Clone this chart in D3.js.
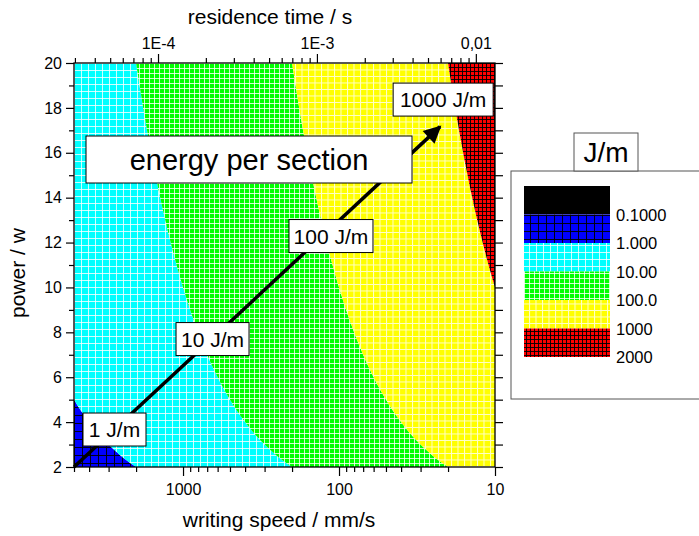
<!DOCTYPE html>
<meta charset="utf-8">
<head>
    <title>Energy per section</title>
    <script type="text/javascript" src="https://cdn.jsdelivr.net/npm/d3@7"></script>
    <style>
        body { margin: 0; background: white; }
        svg text { font-family: "Liberation Sans", Arial, Helvetica, sans-serif; fill: black; }
    </style>
</head>
<body>
<div id="chart"></div>
<script>
    // contour levels (J/m) and the colour of each band between two levels
    var levels = [0.1, 1, 10, 100, 1000, 2000];
    var bandColors = ["#0000ff", "#00ffff", "#00ff00", "#ffff00", "#ff0000"];
    var legendLabels = ["0.1000", "1.000", "10.00", "100.0", "1000", "2000"];

    // axis domains
    var speedDomain = [5000, 10];        // mm/s
    var powerDomain = [2, 20];           // W
    var timeDomain = [2.96e-5, 0.0132];  // s

    var speedTicks = [1000, 100, 10];
    var speedMinor = [5000, 4000, 3000, 2000, 900, 800, 700, 600, 500, 400, 300, 200, 90, 80, 70, 60, 50, 40, 30, 20];
    var powerTicks = [2, 4, 6, 8, 10, 12, 14, 16, 18, 20];
    var powerMinor = [3, 5, 7, 9, 11, 13, 15, 17, 19];
    var timeTicks = [1e-4, 1e-3, 1e-2];
    var timeTickLabels = ["1E-4", "1E-3", "0,01"];
    var timeMinor = [3e-5, 4e-5, 5e-5, 6e-5, 7e-5, 8e-5, 9e-5, 2e-4, 3e-4, 4e-4, 5e-4, 6e-4, 7e-4, 8e-4, 9e-4,
                     2e-3, 3e-3, 4e-3, 5e-3, 6e-3, 7e-3, 8e-3, 9e-3];

    // annotation labels: text, anchor speed, anchor power
    var noteText = ["1 J/m", "10 J/m", "100 J/m", "1000 J/m"];
    var noteSpeed = [2750, 647, 112.6, 21.5];
    var notePower = [3.67, 7.70, 12.29, 18.37];
    var arrowStart = [5000, 2];
    var arrowEnd = [21.2, 17.33];

    var w = 699, h = 536;
    var margin = {left: 74, right: 204, top: 63, bottom: 69};

    var svg = d3.select("#chart").append("svg")
        .attr("width", w).attr("height", h);

    var x = d3.scaleLog().domain(speedDomain).range([margin.left, w - margin.right]);
    var y = d3.scaleLinear().domain(powerDomain).range([h - margin.bottom, margin.top]);
    var xt = d3.scaleLog().domain(timeDomain).range([margin.left, w - margin.right]);

    // grid patterns on top of each band colour
    var patSize = [8, 7, 5, 6.5, 4];
    var patLine = ["#000", "#fff", "#fff", "#fff", "#000"];
    var defs = svg.append("defs");
    bandColors.forEach(function (c, i) {
        var s = patSize[i];
        var p = defs.append("pattern")
            .attr("id", "pat" + i)
            .attr("patternUnits", "userSpaceOnUse")
            .attr("x", margin.left).attr("y", margin.top)
            .attr("width", s).attr("height", s);
        p.append("rect").attr("width", s).attr("height", s).attr("fill", c);
        p.append("path")
            .attr("d", "M0,0.5H" + s + "M0.5,0V" + s)
            .attr("stroke", patLine[i])
            .attr("stroke-opacity", i == 0 || i == 4 ? 0.9 : 0.8)
            .attr("stroke-width", 1);
    });

    defs.append("clipPath").attr("id", "plotClip")
        .append("rect")
        .attr("x", margin.left).attr("y", margin.top)
        .attr("width", w - margin.left - margin.right)
        .attr("height", h - margin.top - margin.bottom);

    // speed at which the energy per section equals a level, for a given power
    function edge(p, level) {
        var v = 1000 * p / level;
        return Math.max(speedDomain[1], Math.min(speedDomain[0], v));
    }
    var powers = d3.range(0, 201).map(function (i) { return powerDomain[0] + i * (powerDomain[1] - powerDomain[0]) / 200; });

    var bands = svg.append("g").attr("clip-path", "url(#plotClip)");
    bandColors.forEach(function (c, i) {
        var area = d3.area()
            .y(function (p) { return y(p); })
            .x0(function (p) { return x(edge(p, levels[i])); })
            .x1(function (p) { return x(edge(p, levels[i + 1])); });
        bands.append("path")
            .datum(powers)
            .attr("d", area)
            .attr("fill", "url(#pat" + i + ")")
            .attr("stroke", "none");
    });

    // arrow
    defs.append("marker")
        .attr("id", "head")
        .attr("viewBox", "0 0 10 10")
        .attr("refX", 9).attr("refY", 5)
        .attr("markerWidth", 6.5).attr("markerHeight", 5)
        .attr("markerUnits", "strokeWidth")
        .attr("orient", "auto")
        .append("path").attr("d", "M0,0L10,5L0,10z").attr("fill", "black");

    svg.append("line")
        .attr("x1", x(arrowStart[0])).attr("y1", y(arrowStart[1]))
        .attr("x2", x(arrowEnd[0]) - 4).attr("y2", y(arrowEnd[1]) + 3.7)
        .attr("stroke", "black").attr("stroke-width", 3.5)
        .attr("marker-end", "url(#head)");

    // boxed labels
    var noteW = [63, 73, 84, 100];
    noteText.forEach(function (t, i) {
        var cx = x(noteSpeed[i]), cy = y(notePower[i]);
        svg.append("rect")
            .attr("x", cx - noteW[i] / 2).attr("y", cy - 16.5)
            .attr("width", noteW[i]).attr("height", 33)
            .attr("fill", "white").attr("stroke", "black").attr("stroke-width", 1);
        svg.append("text")
            .attr("x", cx).attr("y", cy + 7.5)
            .attr("text-anchor", "middle")
            .style("font-size", "21px")
            .text(t);
    });

    // title box
    var eX = x(377.6), eY = y(15.70);
    svg.append("rect")
        .attr("x", eX - 163).attr("y", eY - 23.5)
        .attr("width", 326).attr("height", 47)
        .attr("fill", "white").attr("stroke", "black").attr("stroke-width", 1);
    svg.append("text")
        .attr("x", eX).attr("y", eY + 10)
        .attr("text-anchor", "middle")
        .style("font-size", "29px")
        .text("energy per section");

    // frame
    svg.append("rect")
        .attr("x", margin.left).attr("y", margin.top)
        .attr("width", w - margin.left - margin.right)
        .attr("height", h - margin.top - margin.bottom)
        .attr("fill", "none").attr("stroke", "black").attr("stroke-width", 1.3);

    // axes
    function styleAxis(g) {
        g.select(".domain").remove();
        g.selectAll(".tick line").attr("stroke", "black").attr("stroke-width", 1.2);
        g.selectAll(".tick text").style("font-size", "16px").attr("fill", "black");
    }

    svg.append("g").attr("transform", "translate(0," + (h - margin.bottom) + ")")
        .call(d3.axisBottom(x).tickValues(speedTicks).tickSize(9).tickPadding(8).tickFormat(d3.format("d")))
        .call(styleAxis);
    svg.append("g").attr("transform", "translate(0," + (h - margin.bottom) + ")")
        .call(d3.axisBottom(x).tickValues(speedMinor).tickSize(5).tickFormat(""))
        .call(styleAxis);

    svg.append("g").attr("transform", "translate(0," + margin.top + ")")
        .call(d3.axisTop(xt).tickValues(timeTicks).tickSize(9).tickPadding(5)
            .tickFormat(function (d, i) { return timeTickLabels[i]; }))
        .call(styleAxis);
    svg.append("g").attr("transform", "translate(0," + margin.top + ")")
        .call(d3.axisTop(xt).tickValues(timeMinor).tickSize(5).tickFormat(""))
        .call(styleAxis);

    svg.append("g").attr("transform", "translate(" + margin.left + ",0)")
        .call(d3.axisLeft(y).tickValues(powerTicks).tickSize(8).tickPadding(4))
        .call(styleAxis);
    svg.append("g").attr("transform", "translate(" + margin.left + ",0)")
        .call(d3.axisLeft(y).tickValues(powerMinor).tickSize(5).tickFormat(""))
        .call(styleAxis);

    svg.append("g").attr("transform", "translate(" + (w - margin.right) + ",0)")
        .call(d3.axisRight(y).tickValues(powerTicks.concat(powerMinor)).tickSize(8).tickFormat(""))
        .call(styleAxis);

    // axis titles
    svg.append("text")
        .attr("x", 270).attr("y", 24)
        .attr("text-anchor", "middle").style("font-size", "21px")
        .text("residence time / s");
    svg.append("text")
        .attr("x", 279).attr("y", 527)
        .attr("text-anchor", "middle").style("font-size", "21px")
        .text("writing speed / mm/s");
    svg.append("text")
        .attr("transform", "translate(25,273) rotate(-90)")
        .attr("text-anchor", "middle").style("font-size", "21px")
        .text("power / w");

    // legend
    var lg = svg.append("g");
    lg.append("rect")
        .attr("x", 511).attr("y", 171).attr("width", 200).attr("height", 228)
        .attr("fill", "white").attr("stroke", "#555").attr("stroke-width", 1);
    lg.append("rect")
        .attr("x", 574).attr("y", 133).attr("width", 64).attr("height", 38)
        .attr("fill", "white").attr("stroke", "#555").attr("stroke-width", 1);
    lg.append("text")
        .attr("x", 606).attr("y", 162)
        .attr("text-anchor", "middle").style("font-size", "28px")
        .text("J/m");

    var sw = 28.5, swTop = 186;
    var swFills = ["black"].concat(bandColors.map(function (c, i) { return "url(#pat" + i + ")"; }));
    swFills.forEach(function (f, i) {
        lg.append("rect")
            .attr("x", 524).attr("y", swTop + i * sw)
            .attr("width", 86).attr("height", sw)
            .attr("fill", f);
    });
    legendLabels.forEach(function (t, i) {
        lg.append("text")
            .attr("x", 616).attr("y", swTop + (i + 1) * sw + 6)
            .style("font-size", "16.5px")
            .text(t);
    });
</script>
</body>
</html>
